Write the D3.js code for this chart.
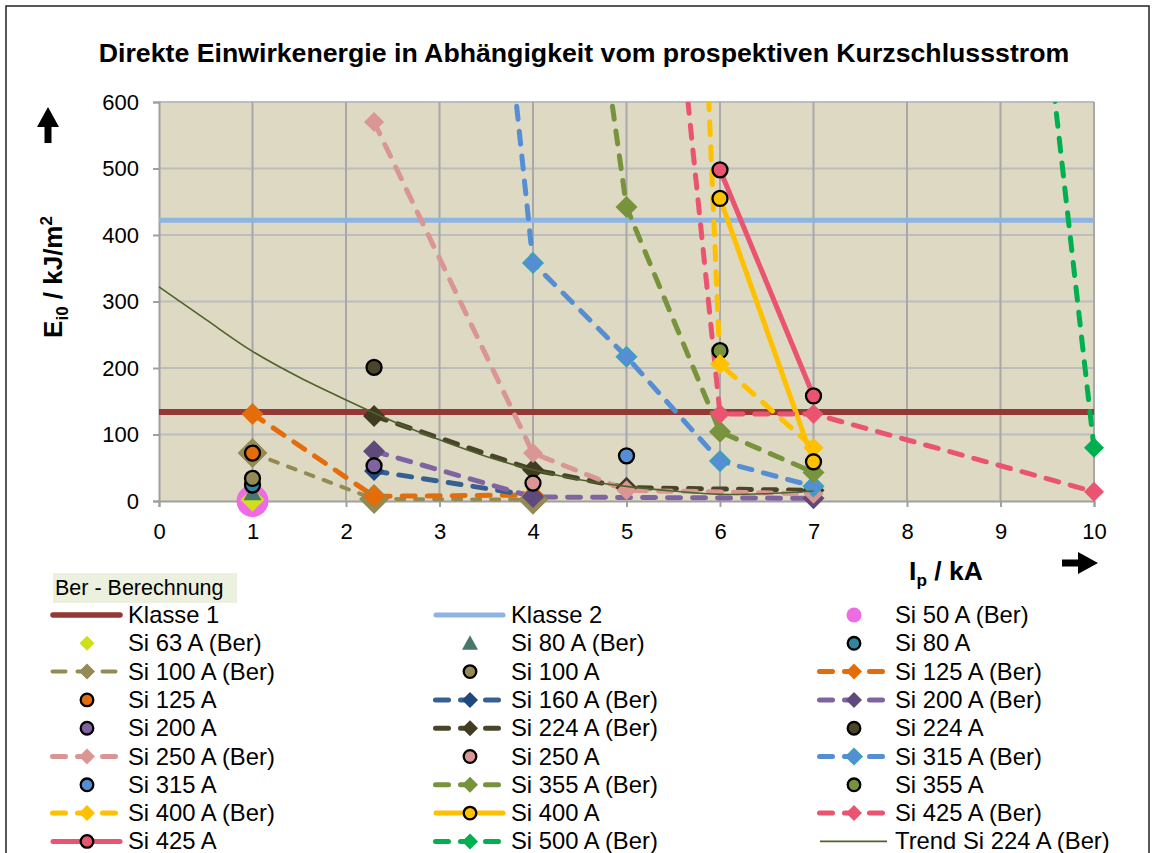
<!DOCTYPE html>
<html>
<head>
<meta charset="utf-8">
<script src="https://cdn.jsdelivr.net/npm/d3@7"></script>
<style>
  body { margin: 0; background: #fff; }
  text { font-family: "Liberation Sans", Arial, sans-serif; fill: #000; }
</style>
</head>
<body>
<svg id="chart" width="1156" height="853"></svg>
<script>
// Axis ticks
const xTicks = [0, 1, 2, 3, 4, 5, 6, 7, 8, 9, 10];
const yTicks = [0, 100, 200, 300, 400, 500, 600];

// Limit lines (kJ/m²)
const klasse1 = [[0, 134], [10, 134]];
const klasse2 = [[0, 422], [10, 422]];

// [Ip in kA, Ei0 in kJ/m²]; "(Ber)" = Berechnung (calculated), else measured
const si50Ber  = [[1, 0]];
const si63Ber  = [[1, 2]];
const si80Ber  = [[1, 12]];
const si80     = [[1, 24]];
const si100Ber = [[1, 72], [2.3, 3], [4, 2]];
const si100    = [[1, 34]];
const si125Ber = [[1, 131], [2.3, 7], [4, 9]];
const si125    = [[1, 72]];
const si160Ber = [[2.3, 45], [4, 8]];
const si200Ber = [[2.3, 75], [4, 6], [7, 4]];
const si200    = [[2.3, 53]];
const si224Ber = [[2.3, 128], [4, 47], [5, 20], [7, 16]];
const si224    = [[2.3, 201]];
const si250Ber = [[2.3, 570], [4, 72], [5, 16], [7, 11]];
const si250    = [[4, 27]];
const si315Ber = [[2.3, 2650], [4, 358], [5, 217], [6, 60], [7, 22]];
const si315    = [[5, 68]];
const si355Ber = [[4, 1450], [5, 442], [6, 104], [7, 43]];
const si355    = [[6, 226]];
const si400Ber = [[5, 3500], [6, 206], [7, 80]];
const si400    = [[6, 455], [7, 59]];
const si425Ber = [[5, 1500], [6, 131], [7, 131], [10, 14]];
const si425    = [[6, 498], [7, 158]];
const si500Ber = [[9, 1330], [10, 80]];
// Trend curve of Si 224 A (Ber)
const trendSi224Ber = [[0, 322], [0.5, 273], [1, 225], [1.5, 186], [2, 152], [2.5, 120],
  [3, 92], [3.5, 67], [4, 47], [4.5, 32], [5, 22], [5.5, 15], [6, 10], [6.5, 11], [7, 15]];

const DASH = "13,12";
const series = [
  { label: "Klasse 1", data: klasse1, line: { color: "#953735", width: 6 } },
  { label: "Klasse 2", data: klasse2, line: { color: "#8eb4e3", width: 5 } },
  { label: "Si 50 A (Ber)", data: si50Ber, marker: { type: "circle", size: 16, fill: "#ee6be3" }, legendSize: 7.5 },
  { label: "Si 63 A (Ber)", data: si63Ber, marker: { type: "diamond", size: 12, fill: "#cfe01b" }, legendSize: 7.5 },
  { label: "Si 80 A (Ber)", data: si80Ber, marker: { type: "triangle", size: 9, fill: "#46796b" }, legendSize: 8 },
  { label: "Si 80 A", data: si80, marker: { type: "circle", size: 7.5, fill: "#31859c", stroke: "#000" } },
  { label: "Si 100 A (Ber)", data: si100Ber, line: { color: "#948a54", width: 4, dash: "8,11" }, marker: { type: "diamond", size: 15, fill: "#948a54" } },
  { label: "Si 100 A", data: si100, marker: { type: "circle", size: 7.5, fill: "#948a54", stroke: "#000" } },
  { label: "Si 125 A (Ber)", data: si125Ber, line: { color: "#e46c0a", width: 5, dash: DASH }, marker: { type: "diamond", size: 11, fill: "#e46c0a" } },
  { label: "Si 125 A", data: si125, marker: { type: "circle", size: 7.5, fill: "#e46c0a", stroke: "#000" } },
  { label: "Si 160 A (Ber)", data: si160Ber, line: { color: "#376092", width: 5, dash: DASH }, marker: { type: "diamond", size: 10, fill: "#1f497d" } },
  { label: "Si 200 A (Ber)", data: si200Ber, line: { color: "#8064a2", width: 5, dash: DASH }, marker: { type: "diamond", size: 11, fill: "#604a7b" } },
  { label: "Si 200 A", data: si200, marker: { type: "circle", size: 7.5, fill: "#8064a2", stroke: "#000" } },
  { label: "Si 224 A (Ber)", data: si224Ber, line: { color: "#4a452a", width: 5, dash: DASH }, marker: { type: "diamond", size: 11, fill: "#403b22" } },
  { label: "Si 224 A", data: si224, marker: { type: "circle", size: 7.5, fill: "#4a452a", stroke: "#000" } },
  { label: "Si 250 A (Ber)", data: si250Ber, line: { color: "#d99694", width: 5, dash: DASH }, marker: { type: "diamond", size: 10, fill: "#d99694" } },
  { label: "Si 250 A", data: si250, marker: { type: "circle", size: 7.5, fill: "#d99694", stroke: "#000" } },
  { label: "Si 315 A (Ber)", data: si315Ber, line: { color: "#558ed5", width: 5, dash: DASH }, marker: { type: "diamond", size: 10, fill: "#558ed5", stroke: "#36a3b8" } },
  { label: "Si 315 A", data: si315, marker: { type: "circle", size: 7.5, fill: "#558ed5", stroke: "#000" } },
  { label: "Si 355 A (Ber)", data: si355Ber, line: { color: "#77933c", width: 5, dash: DASH }, marker: { type: "diamond", size: 11, fill: "#77933c" } },
  { label: "Si 355 A", data: si355, marker: { type: "circle", size: 7.5, fill: "#77933c", stroke: "#000" } },
  { label: "Si 400 A (Ber)", data: si400Ber, line: { color: "#ffc000", width: 5, dash: DASH }, marker: { type: "diamond", size: 10, fill: "#ffc000" } },
  { label: "Si 400 A", data: si400, line: { color: "#ffc000", width: 5 }, marker: { type: "circle", size: 7.5, fill: "#ffc000", stroke: "#000" } },
  { label: "Si 425 A (Ber)", data: si425Ber, line: { color: "#eb5470", width: 5, dash: DASH }, marker: { type: "diamond", size: 10, fill: "#eb5470" } },
  { label: "Si 425 A", data: si425, line: { color: "#eb5470", width: 5 }, marker: { type: "circle", size: 7.5, fill: "#eb5470", stroke: "#000" } },
  { label: "Si 500 A (Ber)", data: si500Ber, line: { color: "#00b050", width: 5, dash: DASH }, marker: { type: "diamond", size: 10, fill: "#00b050" } },
  { label: "Trend Si 224 A (Ber)", data: trendSi224Ber, line: { color: "#4f6228", width: 1.6, curve: true }, trend: true }
];

const svg = d3.select("#chart");
svg.append("rect").attr("width", 1156).attr("height", 853).attr("fill", "#fff");
// chart frame
svg.append("rect").attr("x", 6).attr("y", 6).attr("width", 1143).attr("height", 900)
  .attr("fill", "none").attr("stroke", "#222").attr("stroke-width", 1.5);

const plot = { left: 159, right: 1094, top: 102, bottom: 501 };
const x = d3.scaleLinear().domain([0, 10]).range([plot.left, plot.right]);
const y = d3.scaleLinear().domain([0, 600]).range([plot.bottom, plot.top]);

// title
svg.append("text").attr("x", 584).attr("y", 62).attr("text-anchor", "middle")
  .attr("font-size", 26.7).attr("font-weight", "bold")
  .text("Direkte Einwirkenergie in Abhängigkeit vom prospektiven Kurzschlussstrom");

// plot background
svg.append("rect").attr("x", plot.left).attr("y", plot.top)
  .attr("width", plot.right - plot.left).attr("height", plot.bottom - plot.top)
  .attr("fill", "#ddd9c3");

// gridlines
svg.append("g").selectAll("line").data(yTicks.slice(1)).join("line")
  .attr("x1", plot.left).attr("x2", plot.right).attr("y1", d => y(d)).attr("y2", d => y(d))
  .attr("stroke", "#bdbdbd").attr("stroke-width", 2);
svg.append("g").selectAll("line").data(xTicks.slice(1)).join("line")
  .attr("x1", d => x(d)).attr("x2", d => x(d)).attr("y1", plot.top).attr("y2", plot.bottom)
  .attr("stroke", "#a8a8a8").attr("stroke-width", 2);

// axes
const yAxis = svg.append("g").attr("transform", `translate(${plot.left},0)`)
  .call(d3.axisLeft(y).tickValues(yTicks).tickSize(6).tickPadding(14).tickFormat(d3.format("d")));
const xAxis = svg.append("g").attr("transform", `translate(0,${plot.bottom})`)
  .call(d3.axisBottom(x).tickValues(xTicks).tickSize(6).tickPadding(16).tickFormat(d3.format("d")));
[yAxis, xAxis].forEach(a => {
  a.select(".domain").attr("stroke", "#a0a0a0").attr("stroke-width", 2);
  a.selectAll(".tick line").attr("stroke", "#a0a0a0").attr("stroke-width", 2);
  a.selectAll(".tick text").attr("font-size", 22).attr("font-family", "Liberation Sans, Arial, sans-serif").attr("fill", "#000");
});

// axis titles
const yTitle = svg.append("text").attr("transform", "translate(62,277) rotate(-90)")
  .attr("text-anchor", "middle").attr("font-size", 26).attr("font-weight", "bold");
yTitle.append("tspan").text("E");
yTitle.append("tspan").attr("font-size", "0.65em").attr("dy", 6).text("i0");
yTitle.append("tspan").attr("dy", -6).text(" / kJ/m");
yTitle.append("tspan").attr("font-size", "0.65em").attr("dy", -10).text("2");

const xTitle = svg.append("text").attr("x", 909).attr("y", 580)
  .attr("font-size", 26.5).attr("font-weight", "bold");
xTitle.append("tspan").text("I");
xTitle.append("tspan").attr("font-size", "0.65em").attr("dy", 6).text("p");
xTitle.append("tspan").attr("dy", -6).text(" / kA");

// direction arrows
svg.append("path").attr("d", "M48,107L59,127L51.5,127L51.5,143L44.5,143L44.5,127L37,127Z").attr("fill", "#000");
svg.append("path").attr("d", "M1098,563L1078,552L1078,559.5L1062,559.5L1062,566.5L1078,566.5L1078,574Z").attr("fill", "#000");

// markers
function markerPath(type, s) {
  if (type === "diamond") return `M0,${-s}L${s},0L0,${s}L${-s},0Z`;
  if (type === "triangle") return `M0,${-s}L${s},${s * 0.8}L${-s},${s * 0.8}Z`;
  return null;
}
function drawMarker(g, m, cx, cy, size) {
  if (m.type === "circle") {
    g.append("circle").attr("cx", cx).attr("cy", cy).attr("r", size)
      .attr("fill", m.fill).attr("stroke", m.stroke || "none").attr("stroke-width", m.stroke ? 2.3 : 0);
  } else {
    g.append("path").attr("transform", `translate(${cx},${cy})`).attr("d", markerPath(m.type, size))
      .attr("fill", m.fill).attr("stroke", m.stroke || "none").attr("stroke-width", m.stroke ? 1.5 : 0);
  }
}

svg.append("clipPath").attr("id", "plotClip").append("rect")
  .attr("x", plot.left - 2).attr("y", plot.top).attr("width", plot.right - plot.left + 4)
  .attr("height", plot.bottom - plot.top + 20);

function drawLine(g, s) {
  const gen = d3.line().x(d => x(d[0])).y(d => y(d[1]));
  if (s.line.curve) gen.curve(d3.curveCatmullRom);
  g.append("path").attr("clip-path", "url(#plotClip)").attr("d", gen(s.data))
    .attr("fill", "none").attr("stroke", s.line.color).attr("stroke-width", s.line.width)
    .attr("stroke-dasharray", s.line.dash || null)
    .attr("stroke-linecap", s.line.dash ? "round" : "butt").attr("stroke-linejoin", "round");
}

// series lines first, then markers, trend line on top
const lineLayer = svg.append("g");
const markerLayer = svg.append("g");
const trendLayer = svg.append("g");
series.forEach(s => {
  if (s.line) drawLine(s.trend ? trendLayer : lineLayer, s);
  if (s.marker) {
    s.data.filter(d => d[1] <= 600)
      .forEach(d => drawMarker(markerLayer, s.marker, x(d[0]), y(d[1]), s.marker.size));
  }
});

// legend
const legend = svg.append("g");
legend.append("rect").attr("x", 53).attr("y", 573).attr("width", 184).attr("height", 30).attr("fill", "#ebf1de");
legend.append("text").attr("x", 55).attr("y", 595).attr("font-size", 21.5).text("Ber - Berechnung");
const colX = [50, 433, 817];
series.forEach((s, i) => {
  const col = i % 3, row = Math.floor(i / 3);
  const x0 = colX[col], cy = 615 + row * 28.3;
  const g = legend.append("g");
  if (s.line) {
    const dashed = !!s.line.dash;
    g.append("line").attr("x1", x0 + (dashed ? 2.5 : 3)).attr("x2", x0 + 70).attr("y1", cy).attr("y2", cy)
      .attr("stroke", s.line.color).attr("stroke-width", Math.min(s.line.width, 5.5))
      .attr("stroke-dasharray", dashed ? "13,12" : null)
      .attr("stroke-linecap", s.line.width > 2 ? "round" : "butt");
  }
  if (s.marker) {
    const size = s.legendSize || (s.marker.type === "circle" ? 6.3 : 8);
    drawMarker(g, s.marker, x0 + 37, cy, size);
  }
  g.append("text").attr("x", x0 + 78).attr("y", cy + 8).attr("font-size", 23.8).text(s.label);
});
</script>
</body>
</html>
